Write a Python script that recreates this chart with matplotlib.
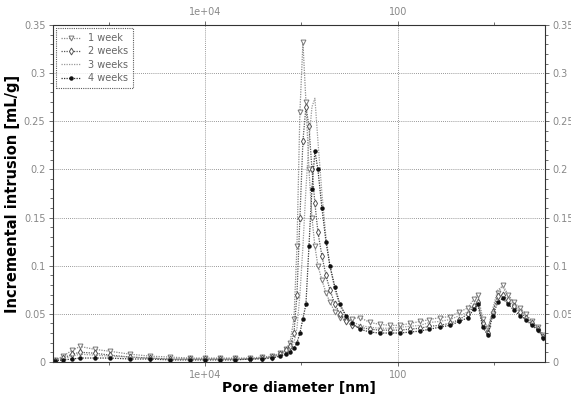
import numpy as np
import matplotlib
matplotlib.use("Agg")
import matplotlib.pyplot as plt
from matplotlib.ticker import FixedLocator, FuncFormatter, NullFormatter

# pore diameters (nm), shared by all four curves (MIP pressure table)
diameter_nm = [358000, 296000, 239000, 197000, 138000, 96400, 59900, 37200, 23100, 14300,
               10000, 7000, 4890, 3420, 2570, 2020, 1670, 1450, 1315, 1195,
               1113, 1037, 965, 898, 836, 778, 725, 675, 613, 557,
               507, 450, 399, 346, 300, 248, 195, 154, 121, 95,
               75, 59, 47, 37, 29, 23, 18.8, 16.3, 14.8, 13.2,
               11.7, 10.4, 9.2, 8.2, 7.2, 6.3, 5.4, 4.7, 4.1, 3.5, 3.1]

week1 = [0.002, 0.006, 0.012, 0.016, 0.013, 0.011, 0.008, 0.006, 0.005, 0.004,
         0.004, 0.004, 0.004, 0.004, 0.005, 0.006, 0.009, 0.013, 0.020, 0.045,
         0.120, 0.260, 0.332, 0.270, 0.200, 0.150, 0.120, 0.100, 0.085, 0.072,
         0.062, 0.052, 0.046, 0.042, 0.045, 0.046, 0.041, 0.039, 0.038, 0.038,
         0.040, 0.042, 0.044, 0.046, 0.047, 0.052, 0.056, 0.065, 0.070, 0.045,
         0.035, 0.050, 0.072, 0.080, 0.070, 0.062, 0.056, 0.050, 0.042, 0.036, 0.028]

week2 = [0.001, 0.004, 0.008, 0.010, 0.009, 0.007, 0.005, 0.004, 0.003, 0.003,
         0.003, 0.003, 0.003, 0.003, 0.004, 0.005, 0.008, 0.012, 0.016, 0.030,
         0.070, 0.150, 0.230, 0.265, 0.245, 0.200, 0.165, 0.135, 0.110, 0.090,
         0.075, 0.060, 0.050, 0.042, 0.038, 0.036, 0.034, 0.033, 0.033, 0.033,
         0.034, 0.035, 0.037, 0.038, 0.040, 0.044, 0.050, 0.058, 0.062, 0.040,
         0.030, 0.052, 0.068, 0.070, 0.064, 0.058, 0.052, 0.046, 0.040, 0.034, 0.026]

week3 = [0.001, 0.003, 0.006, 0.008, 0.007, 0.006, 0.005, 0.004, 0.003, 0.003,
         0.003, 0.003, 0.003, 0.003, 0.004, 0.005, 0.007, 0.010, 0.014, 0.020,
         0.035, 0.070, 0.120, 0.180, 0.230, 0.265, 0.274, 0.230, 0.175, 0.130,
         0.100, 0.075, 0.058, 0.048, 0.042, 0.038, 0.036, 0.035, 0.035, 0.036,
         0.037, 0.038, 0.041, 0.042, 0.044, 0.048, 0.052, 0.060, 0.064, 0.042,
         0.033, 0.055, 0.075, 0.078, 0.068, 0.060, 0.054, 0.048, 0.041, 0.035, 0.027]

week4 = [0.001, 0.002, 0.003, 0.004, 0.004, 0.004, 0.003, 0.003, 0.002, 0.002,
         0.002, 0.002, 0.002, 0.003, 0.003, 0.004, 0.006, 0.008, 0.010, 0.014,
         0.020, 0.030, 0.045, 0.060, 0.120, 0.180, 0.219, 0.200, 0.160, 0.125,
         0.100, 0.078, 0.060, 0.048, 0.040, 0.034, 0.031, 0.030, 0.030, 0.030,
         0.031, 0.032, 0.034, 0.036, 0.038, 0.042, 0.046, 0.055, 0.060, 0.036,
         0.028, 0.048, 0.062, 0.066, 0.060, 0.054, 0.048, 0.044, 0.038, 0.033, 0.025]

labels = ["1 week", "2 weeks", "3 weeks", "4 weeks"]
x_ticks = [1e4, 100]
x_tick_labels = ["1e+04", "100"]
y_ticks = [0, 0.05, 0.1, 0.15, 0.2, 0.25, 0.3, 0.35]

fig = plt.figure(figsize=(5.71, 3.99), dpi=100)
ax = fig.add_axes([0.093, 0.093, 0.861, 0.844])

ax.plot(diameter_nm, week1, color="#8a8a8a", lw=0.9, ls=(0, (1, 1)),
        marker="v", ms=3.5, mfc="white", mec="#777777", mew=0.7, label=labels[0])
ax.plot(diameter_nm, week2, color="#555555", lw=0.9, ls=(0, (1, 1)),
        marker="d", ms=3.5, mfc="white", mec="#555555", mew=0.7, label=labels[1])
ax.plot(diameter_nm, week3, color="#9a9a9a", lw=0.9, ls=(0, (1, 1)), label=labels[2])
ax.plot(diameter_nm, week4, color="#333333", lw=0.9, ls=(0, (1, 1)),
        marker="o", ms=2.2, mfc="#111111", mec="#111111", label=labels[3])

ax.set_xscale("log")
ax.set_xlim(3.76e5, 3.0)
ax.set_ylim(0, 0.35)

ax.xaxis.set_major_locator(FixedLocator(x_ticks))
ax.xaxis.set_major_formatter(FuncFormatter(lambda v, p: x_tick_labels[x_ticks.index(v)] if v in x_ticks else ""))
ax.xaxis.set_minor_locator(FixedLocator([1e5, 1e3, 10]))
ax.xaxis.set_minor_formatter(NullFormatter())
ax.yaxis.set_major_locator(FixedLocator(y_ticks))
ax.yaxis.set_major_formatter(FuncFormatter(lambda v, p: "%g" % v))
ax.yaxis.set_minor_locator(FixedLocator(np.arange(0, 0.351, 0.01)))

ax.tick_params(which="both", direction="out", top=True, right=True,
               labeltop=True, labelright=True, labelsize=7, labelcolor="#888888",
               color="#555555", width=0.6, pad=2.5)
ax.tick_params(which="major", length=3)
ax.tick_params(which="minor", length=2)

ax.grid(True, which="major", color="#777777", ls=(0, (1, 1.5)), lw=0.6)
for s in ax.spines.values():
    s.set_linestyle((0, (1, 1)))
    s.set_linewidth(0.8)
    s.set_color("#333333")

ax.set_xlabel("Pore diameter [nm]", fontsize=10, fontweight="bold", labelpad=1)
ax.set_ylabel("Incremental intrusion [mL/g]", fontsize=10.5, fontweight="bold", labelpad=3)

leg = ax.legend(loc="upper left", fontsize=7, frameon=True, fancybox=False,
                borderpad=0.5, labelspacing=0.35, handlelength=2.0,
                borderaxespad=0.3, labelcolor="#666666")
leg.get_frame().set_edgecolor("#333333")
leg.get_frame().set_linestyle((0, (1, 1)))
leg.get_frame().set_linewidth(0.8)

fig.savefig("out.png", dpi=100)
